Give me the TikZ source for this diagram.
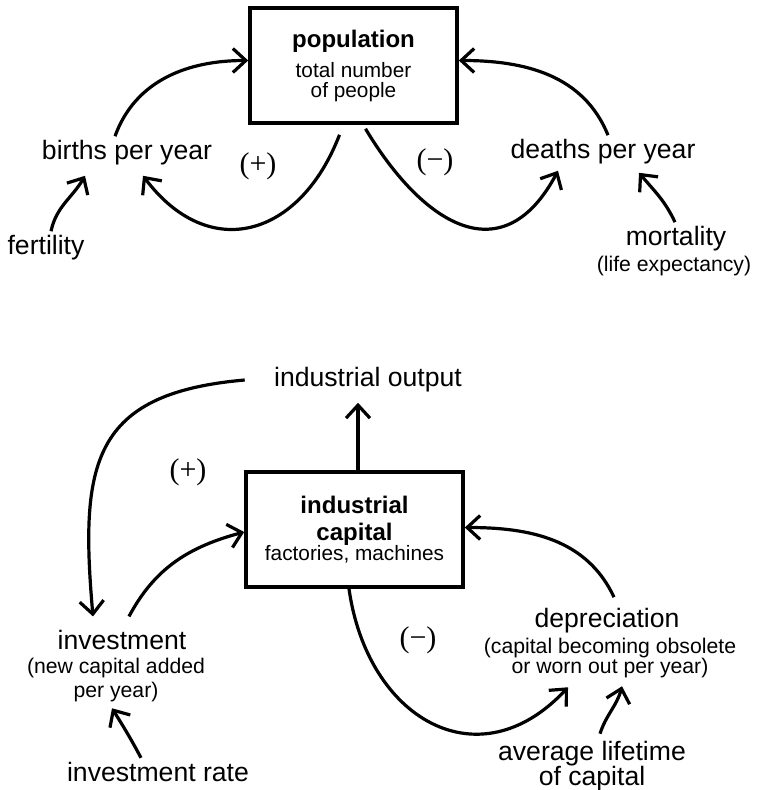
\documentclass[tikz,border=0pt]{standalone}
\usepackage{fontspec}
\setmainfont{Liberation Sans}
\newfontfamily\signfont{Liberation Serif}
\usetikzlibrary{arrows.meta}
\newcommand{\bfont}{\fontsize{12}{13.5}\selectfont\bfseries}
\lineskiplimit=-20pt

\begin{document}
\begin{tikzpicture}[%
    >={Straight Barb[length=6.5pt,width=12pt]}, % open arrow heads, as in the drawing
    x=0.5pt, y=0.5pt,   % one unit per pixel of the scan
    ]
% -------------------------------------------------
% Text and box styles
\tikzset{
  base/.style={inner sep=2pt, align=center},
  stock/.style={base, draw, line width=1.8pt, font=\fontsize{10.4}{10}\selectfont},
  bigtx/.style={base, font=\fontsize{13.3}{12.5}\selectfont},
  smalltx/.style={base, font=\fontsize{10.6}{10}\selectfont},
  signtx/.style={base, font=\fontsize{15}{16}\signfont},
  % Connector line style
  flow/.style={->, line width=1.6pt},
}
\useasboundingbox (0,0) rectangle (762,-790);
% -------------------------------------------------
% Population loop
\node [stock, minimum width=103.5pt, minimum height=57.5pt] (pop) at (353.5,-65.5)
  {{\bfont population}\\[5pt] total number\\ of people};
\node [bigtx] (births) at (127,-153) {births per year};
\node [bigtx] (deaths) at (603,-152) {deaths per year};
\node [bigtx] (fertility) at (46,-248) {fertility};
\node [bigtx] (mort) at (676,-239) {mortality};
\node [smalltx] (mortnote) at (674,-266) {(life expectancy)};
\node [signtx] (plus) at (258,-166) {(+)};
\node [signtx] (minus) at (435,-162) {(−)};

\draw[flow] ([xshift=-6pt]births.north) to[out=70,in=180] ([yshift=2.5pt]pop.west);	%births,population
\draw[flow] ([xshift=-7pt,yshift=-5pt]pop.south) to[out=-111,in=-53,looseness=1.4] ([xshift=8pt,yshift=-3pt]births.south);	%population,births
\draw[flow] ([xshift=6pt,yshift=-2pt]pop.south) to[out=-59,in=-118,looseness=1.5] ([xshift=-22.5pt,yshift=-1pt]deaths.south);	%population,deaths
\draw[flow] ([xshift=2.5pt]deaths.north) to[out=112,in=0] ([yshift=2.5pt]pop.east);	%deaths,population
\draw[flow] ([xshift=2.5pt]fertility.north) to[out=78,in=-120] ([xshift=-21pt,yshift=-3pt]births.south);	%fertility,births
\draw[flow] ([xshift=-0.5pt]mort.north) to[out=115,in=-50] ([xshift=18pt,yshift=-2pt]deaths.south);	%mortality,deaths

% -------------------------------------------------
% Capital loop
\node [stock, minimum width=108.5pt, minimum height=57.5pt] (cap) at (354.5,-529.5)
  {{\bfont industrial}\\[3.5pt] {\bfont capital}\\ factories, machines};
\node [bigtx] (output) at (368,-380) {industrial output};
\node [bigtx] (invest) at (122,-640) {investment};
\node [smalltx] (invnote) at (116,-680) {(new capital added\\[2pt] per year)};
\node [bigtx] (invrate) at (158,-772) {investment rate};
\node [bigtx] (dep) at (607,-621) {depreciation};
\node [smalltx] (depnote) at (610,-658) {(capital becoming obsolete\\ or worn out per year)};
\node [bigtx] (avg) at (592,-766) {average lifetime\\ of capital};
\node [signtx] (plus2) at (188,-472) {(+)};
\node [signtx] (minus2) at (418,-640) {(−)};

\draw[flow] ([xshift=1.75pt]cap.north) -- ([xshift=-5pt,yshift=-3pt]output.south);	%capital,output
\draw[flow] ([xshift=-12.5pt]output.west) to[out=185,in=95,looseness=1.4] ([xshift=-14.5pt,yshift=4.7pt]invest.north);	%output,investment
\draw[flow] ([xshift=3.5pt,yshift=4.7pt]invest.north) to[out=62,in=195] ([yshift=-1.25pt]cap.west);	%investment,capital
\draw[flow] ([xshift=-8.5pt]invrate.north) to[out=118,in=-58] ([xshift=-2pt,yshift=-1pt]invnote.south);	%rate,investment
\draw[flow] ([xshift=3.5pt,yshift=3.5pt]dep.north) to[out=115,in=0] ([yshift=1pt]cap.east);	%depreciation,capital
\draw[flow] ([xshift=-2.75pt]cap.south) to[out=-82,in=-133,looseness=1.4] ([xshift=-21pt,yshift=-2.5pt]depnote.south);	%capital,depreciation
\draw[flow] ([xshift=4pt,yshift=1.5pt]avg.north) to[out=72,in=-105] ([xshift=6pt,yshift=-2pt]depnote.south);	%lifetime,depreciation

% -------------------------------------------------
\end{tikzpicture}
\end{document}
